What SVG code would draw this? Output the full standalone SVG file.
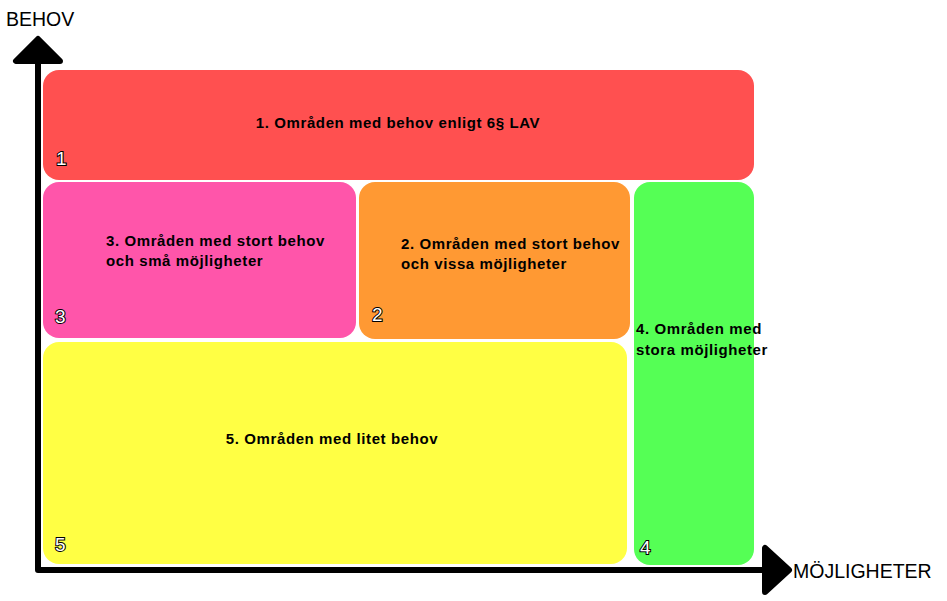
<svg xmlns="http://www.w3.org/2000/svg" width="947" height="601" viewBox="0 0 947 601">
<style>
.lbl{font-family:"Liberation Sans",Arial,sans-serif;font-size:15px;letter-spacing:0.6px;font-weight:bold;fill:#000}
.num{font-family:"Liberation Sans",Arial,sans-serif;font-size:19px;fill:#fff;stroke:#000;stroke-width:2px;paint-order:stroke}
.ax{font-family:"Liberation Sans",Arial,sans-serif;font-size:19.5px;fill:#000}
.axis{stroke:#000;stroke-width:6;fill:none;stroke-linecap:round;stroke-linejoin:round}
.head{fill:#000;stroke:#000;stroke-width:6;stroke-linejoin:round}
</style>
<rect width="947" height="601" fill="#fff"/>
<g id="node1">
<rect x="43" y="70" width="711" height="110" rx="16" fill="#FF5050"/>
<text class="lbl" x="398" y="128" text-anchor="middle">1. Områden med behov enligt 6§ LAV</text>
<text class="num" x="56" y="165">1</text>
</g>
<g id="node3">
<rect x="43" y="182" width="313" height="156" rx="16" fill="#FF55AA"/>
<text class="lbl" x="106" y="246">3. Områden med stort behov</text>
<text class="lbl" x="106" y="266">och små möjligheter</text>
<text class="num" x="55" y="323">3</text>
</g>
<g id="node2">
<rect x="359" y="182" width="271" height="157" rx="16" fill="#FF9933"/>
<text class="lbl" x="401" y="249">2. Områden med stort behov</text>
<text class="lbl" x="401" y="269">och vissa möjligheter</text>
<text class="num" x="372" y="321">2</text>
</g>
<g id="node4">
<rect x="634" y="182" width="120" height="383" rx="16" fill="#55FF55"/>
<text class="lbl" x="636" y="334">4. Områden med</text>
<text class="lbl" x="636" y="355">stora möjligheter</text>
<text class="num" x="640" y="554">4</text>
</g>
<g id="node5">
<rect x="43" y="342" width="584" height="222" rx="16" fill="#FFFF44"/>
<text class="lbl" x="332" y="444" text-anchor="middle">5. Områden med litet behov</text>
<text class="num" x="55" y="551">5</text>
</g>
<g id="connectors">
<polyline class="axis" points="38,50 38,570 775,570"/>
<polygon class="head" points="38,39 16,61 60,61"/>
<polygon class="head" points="789,570 765,548 765,592"/>
</g>
<text class="ax" x="6" y="26">BEHOV</text>
<text class="ax" x="793" y="578">MÖJLIGHETER</text>
</svg>
